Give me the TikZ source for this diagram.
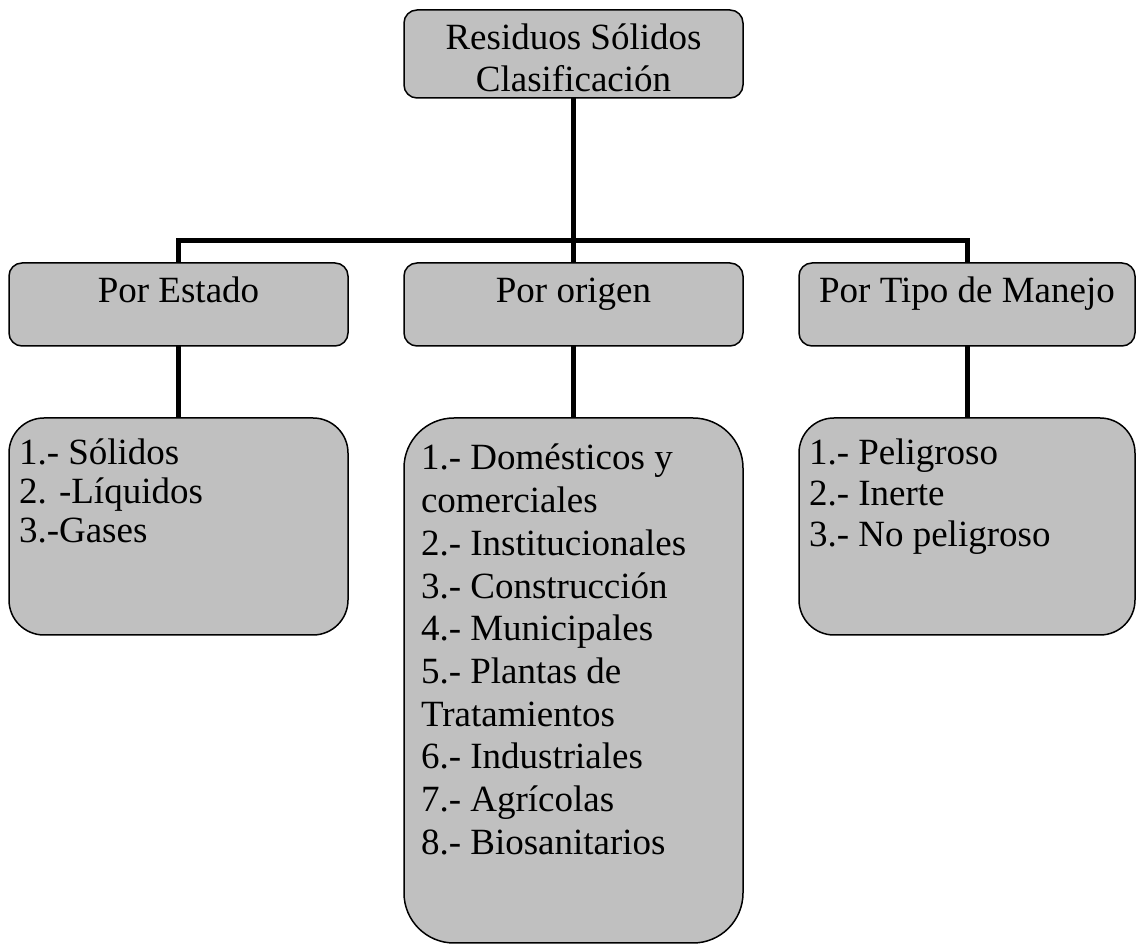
\documentclass[tikz,border=0pt]{standalone}
\usepackage{fontspec}
\setmainfont{Liberation Serif}
\definecolor{boxgray}{HTML}{C0C0C0}
\begin{document}
\begin{tikzpicture}[x=0.5pt,y=-0.5pt,
  box/.style={draw=black, line width=0.75pt, fill=boxgray, rectangle, inner sep=0pt, outer sep=0pt},
  conn/.style={line width=2.5pt, draw=black},
  txt/.style={inner sep=0pt, outer sep=0pt, anchor=base},
  lst/.style={inner sep=0pt, outer sep=0pt, anchor=base west}
]
\useasboundingbox (0,0) rectangle (1136,945);
% level 1
\node[box, rounded corners=6.5pt, minimum width=169.5pt, minimum height=44pt] (top) at (573.5,54) {};
% level 2
\node[box, rounded corners=6.5pt, minimum width=169.5pt, minimum height=41.5pt] (estado) at (178.5,304.5) {};
\node[box, rounded corners=6.5pt, minimum width=169.5pt, minimum height=41.5pt] (origen) at (573.5,304.5) {};
\node[box, rounded corners=6.5pt, minimum width=168pt, minimum height=41.5pt] (manejo) at (967,304.5) {};
% level 3
\node[box, rounded corners=17.5pt, minimum width=169.5pt, minimum height=108.5pt] (lestado) at (178.5,526.5) {};
\node[box, rounded corners=25pt, minimum width=169.5pt, minimum height=262.5pt] (lorigen) at (573.5,680.5) {};
\node[box, rounded corners=17.5pt, minimum width=168pt, minimum height=108.5pt] (lmanejo) at (967,526.5) {};
% connectors
\coordinate (bus) at (573.5,240.7);
\draw[conn] (top.south) -- (origen.north);
\draw[conn] (estado.north) |- (bus) -| (manejo.north);
\draw[conn] (estado.south) -- (lestado.north);
\draw[conn] (origen.south) -- (lorigen.north);
\draw[conn] (manejo.south) -- (lmanejo.north);
% texts
\node[txt, font=\fontsize{18.5}{21}\selectfont] (ttop) at (573.5,50)
  {\begin{tabular}[t]{@{}c@{}}Residuos Sólidos\\Clasificación\end{tabular}};
\node[txt, font=\fontsize{18.5}{21}\selectfont] (testado) at (178.5,302.7) {Por Estado};
\node[txt, font=\fontsize{18.5}{21}\selectfont] (torigen) at (573.5,302.7) {Por origen};
\node[txt, font=\fontsize{18.5}{21}\selectfont] (tmanejo) at (967,302.7) {Por Tipo de Manejo};
\node[lst, font=\fontsize{18.5}{19.5}\selectfont] (tlestado) at (19,464.5)
  {\begin{tabular}[t]{@{}l@{}}1.- Sólidos\\2. -Líquidos\\3.-Gases\end{tabular}};
\node[lst, font=\fontsize{18.5}{21.35}\selectfont] (tlorigen) at (421,470)
  {\begin{tabular}[t]{@{}l@{}}1.- Domésticos y\\comerciales\\2.- Institucionales\\3.- Construcción\\4.- Municipales\\5.- Plantas de\\Tratamientos\\6.- Industriales\\7.- Agrícolas\\8.- Biosanitarios\end{tabular}};
\node[lst, font=\fontsize{18.5}{20.5}\selectfont] (tlmanejo) at (809,464.5)
  {\begin{tabular}[t]{@{}l@{}}1.- Peligroso\\2.- Inerte\\3.- No peligroso\end{tabular}};
\end{tikzpicture}
\end{document}
